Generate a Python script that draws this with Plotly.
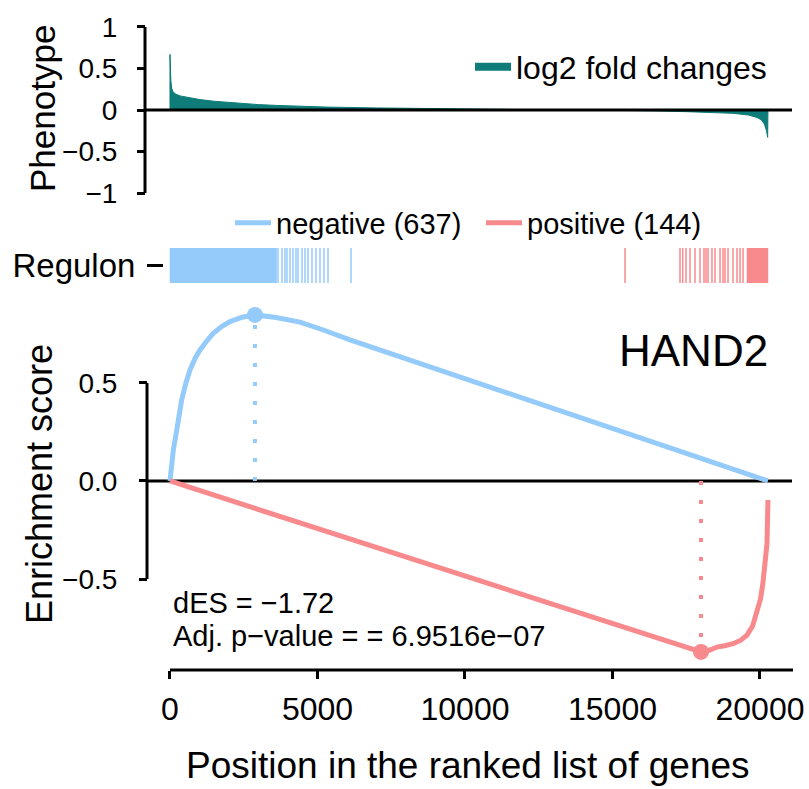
import plotly.graph_objects as go

# ---------------- data ----------------
# phenotype: ranked log2 fold changes (gene position, value)
phen_x = [0, 0, 30, 60, 100, 200, 340, 600, 1017, 1500, 2136, 3000, 3627, 4500, 5322,
          7000, 9000, 11000, 12500, 14000, 15000, 16270, 17500, 18500, 19085, 19600,
          19900, 20050, 20150, 20220, 20260, 20270]
phen_y = [0, 0.67, 0.35, 0.26, 0.22, 0.19, 0.17, 0.15, 0.125, 0.105, 0.085, 0.065, 0.055,
          0.045, 0.035, 0.025, 0.015, 0.008, 0.003, 0.0, -0.003, -0.01, -0.02, -0.03,
          -0.04, -0.06, -0.09, -0.12, -0.17, -0.25, -0.33, 0]

# regulon hits (gene positions)
neg_block = [0, 3620]
neg_hits = [3661, 3797, 3898, 3966, 4068, 4170, 4271, 4339, 4475, 4576, 4678, 4814,
            4949, 5085, 5220, 5356, 6136]
pos_hits = [15424, 17289, 17380, 17492, 17628, 17797, 17967, 18102, 18170, 18238, 18373,
            18475, 18645, 18746, 18814, 18916, 19085, 19221, 19323, 19424]
pos_block = [19560, 20270]

# running enrichment scores
es_neg_x = [0, 60, 113, 248, 396, 540, 678, 850, 1017, 1250, 1469, 1750, 2034, 2450, 2880,
            3600, 4407, 5200, 6102, 20270]
es_neg_y = [0, 0.08, 0.158, 0.277, 0.413, 0.50, 0.566, 0.625, 0.668, 0.715, 0.753, 0.787,
            0.813, 0.835, 0.847, 0.834, 0.81, 0.77, 0.72, 0.0]
es_pos_x = [0, 18000, 18300, 18543, 18800, 19085, 19350, 19560, 19750, 19900, 20020, 20100,
            20180, 20237, 20270]
es_pos_y = [0, -0.872, -0.862, -0.847, -0.84, -0.83, -0.812, -0.786, -0.74, -0.67, -0.6,
            -0.52, -0.43, -0.32, -0.097]
neg_peak = (2880, 0.847)
pos_peak = (18000, -0.872)

neg_label = "negative (637)"
pos_label = "positive (144)"
regulator = "HAND2"
des_text = "dES = \u22121.72"
pval_text = "Adj. p\u2212value = = 6.9516e\u221207"

x_ticks = [0, 5000, 10000, 15000, 20000]
phen_ticks = [1, 0.5, 0, -0.5, -1]
phen_ticktext = ["1", "0.5", "0", "\u22120.5", "\u22121"]
es_ticks = [0.5, 0.0, -0.5]
es_ticktext = ["0.5", "0.0", "\u22120.5"]

# ---------------- styling ----------------
W, H = 809, 789
BLUE = "#95CBFA"
PINK = "#F88A8E"
TEAL = "#0E7C78"
FONT = "Liberation Sans, Arial, sans-serif"


def px(p):
    return p / W


def py(p):
    return 1 - p / H


XR = [-847, 21119]
XDOM = [px(145), px(793)]


def vlines(pos):
    xs, ys = [], []
    for p in pos:
        xs += [p, p, None]
        ys += [0, 1, None]
    return xs, ys


fig = go.Figure()

# phenotype panel
fig.add_trace(go.Scatter(x=phen_x, y=phen_y, xaxis="x2", yaxis="y", mode="lines",
                         fill="tozeroy", fillcolor=TEAL, line=dict(color=TEAL, width=1),
                         showlegend=False, hoverinfo="skip"))
fig.add_trace(go.Scatter(x=[None], y=[None], xaxis="x2", yaxis="y", mode="lines",
                         line=dict(color=TEAL, width=8), name="log2 fold changes",
                         legend="legend"))

# regulon track
fig.add_trace(go.Scatter(x=[neg_block[0], neg_block[1], neg_block[1], neg_block[0], neg_block[0]],
                         y=[0, 0, 1, 1, 0], xaxis="x3", yaxis="y2", mode="lines",
                         fill="toself", fillcolor=BLUE, line=dict(color=BLUE, width=0.5),
                         showlegend=False, hoverinfo="skip"))
nx, ny = vlines(neg_hits)
fig.add_trace(go.Scatter(x=nx, y=ny, xaxis="x3", yaxis="y2", mode="lines",
                         line=dict(color=BLUE, width=1.5), showlegend=False, hoverinfo="skip"))
fig.add_trace(go.Scatter(x=[pos_block[0], pos_block[1], pos_block[1], pos_block[0], pos_block[0]],
                         y=[0, 0, 1, 1, 0], xaxis="x3", yaxis="y2", mode="lines",
                         fill="toself", fillcolor=PINK, line=dict(color=PINK, width=0.5),
                         showlegend=False, hoverinfo="skip"))
qx, qy = vlines(pos_hits)
fig.add_trace(go.Scatter(x=qx, y=qy, xaxis="x3", yaxis="y2", mode="lines",
                         line=dict(color=PINK, width=1.5), showlegend=False, hoverinfo="skip"))

# enrichment panel
fig.add_trace(go.Scatter(x=[neg_peak[0], neg_peak[0]], y=[0, neg_peak[1]], xaxis="x", yaxis="y3",
                         mode="lines", line=dict(color=BLUE, width=4, dash="4px,15px"),
                         showlegend=False, hoverinfo="skip"))
fig.add_trace(go.Scatter(x=[pos_peak[0], pos_peak[0]], y=[0, pos_peak[1]], xaxis="x", yaxis="y3",
                         mode="lines", line=dict(color=PINK, width=4, dash="4px,15px"),
                         showlegend=False, hoverinfo="skip"))
fig.add_trace(go.Scatter(x=es_neg_x, y=es_neg_y, xaxis="x", yaxis="y3", mode="lines",
                         line=dict(color=BLUE, width=5), name=neg_label, legend="legend2"))
fig.add_trace(go.Scatter(x=es_pos_x, y=es_pos_y, xaxis="x", yaxis="y3", mode="lines",
                         line=dict(color=PINK, width=5), name=pos_label, legend="legend2"))
fig.add_trace(go.Scatter(x=[neg_peak[0]], y=[neg_peak[1]], xaxis="x", yaxis="y3", mode="markers",
                         marker=dict(color=BLUE, size=16), showlegend=False))
fig.add_trace(go.Scatter(x=[pos_peak[0]], y=[pos_peak[1]], xaxis="x", yaxis="y3", mode="markers",
                         marker=dict(color=PINK, size=16), showlegend=False))

tickfont = dict(family=FONT, size=28, color="black")
common_y = dict(showgrid=False, zeroline=False, showline=False, ticks="outside",
                ticklen=8, tickwidth=3, tickcolor="black", tickfont=tickfont,
                anchor="free", fixedrange=True, automargin=False)

fig.update_layout(
    width=W, height=H, margin=dict(l=0, r=0, t=0, b=0, autoexpand=False),
    paper_bgcolor="white", plot_bgcolor="white",
    font=dict(family=FONT, color="black"),
    xaxis=dict(domain=XDOM, range=XR, anchor="y3", tickvals=x_ticks,
               ticktext=[str(v) for v in x_ticks], ticks="outside", ticklen=8, tickwidth=3,
               tickcolor="black", showgrid=False, zeroline=False, showline=False,
               tickfont=dict(family=FONT, size=32, color="black"), ticklabelstandoff=3,
               automargin=False),
    xaxis2=dict(domain=XDOM, range=XR, matches="x", anchor="y", visible=False, automargin=False),
    xaxis3=dict(domain=XDOM, range=XR, matches="x", anchor="y2", visible=False, automargin=False),
    yaxis=dict(domain=[py(200), py(20)], range=[-1.084, 1.084], position=px(145),
               tickvals=phen_ticks, ticktext=phen_ticktext, ticklabelstandoff=14, **common_y),
    yaxis2=dict(domain=[py(283), py(248)], range=[0, 1], position=px(163),
                tickvals=[0.5], ticktext=["Regulon"],
                **{**common_y, "ticklen": 16, "tickfont": dict(family=FONT, size=33, color="black")},
                ticklabelstandoff=5),
    yaxis3=dict(domain=[py(670), py(300)], range=[-0.964, 0.923], position=px(147),
                tickvals=es_ticks, ticktext=es_ticktext, ticklabelstandoff=16, **common_y),
    legend=dict(x=px(470), y=py(67), xanchor="left", yanchor="middle", itemwidth=36,
                font=dict(family=FONT, size=32), bgcolor="rgba(0,0,0,0)"),
    legend2=dict(x=px(230), y=py(223), xanchor="left", yanchor="middle", orientation="h",
                 itemwidth=36, entrywidth=200, entrywidthmode="pixels",
                 font=dict(family=FONT, size=29), bgcolor="rgba(0,0,0,0)"),
)

# axis lines (R style, spanning tick range)
line = dict(color="black", width=3)
fig.add_shape(type="line", xref="paper", yref="y", x0=px(145), x1=px(145), y0=-1, y1=1, line=line)
fig.add_shape(type="line", xref="paper", yref="y", x0=px(145), x1=px(792), y0=0, y1=0, line=line,
              layer="above")
fig.add_shape(type="line", xref="paper", yref="y3", x0=px(147), x1=px(147), y0=-0.5, y1=0.5, line=line)
fig.add_shape(type="line", xref="paper", yref="y3", x0=px(147), x1=px(792), y0=0, y1=0, line=line,
              layer="below")
fig.add_shape(type="line", xref="x", yref="paper", x0=0, x1=XR[1], y0=py(670), y1=py(670), line=line)

ann_font = dict(family=FONT, color="black")


def note(text, x, y, size, xanchor="center", angle=0):
    fig.add_annotation(text=text, xref="paper", yref="paper", x=px(x), y=py(y),
                       xanchor=xanchor, yanchor="middle", textangle=angle, showarrow=False,
                       font=dict(**ann_font, size=size))


note("Phenotype", 42, 109, 35, angle=-90)
note("Enrichment score", 40, 484, 36, angle=-90)
note("Position in the ranked list of genes", 468, 765, 37)
note(regulator, 770, 351, 44, xanchor="right")
note(des_text, 171, 603, 29, xanchor="left")
note(pval_text, 171, 636, 29, xanchor="left")

fig.write_html("out.html")
